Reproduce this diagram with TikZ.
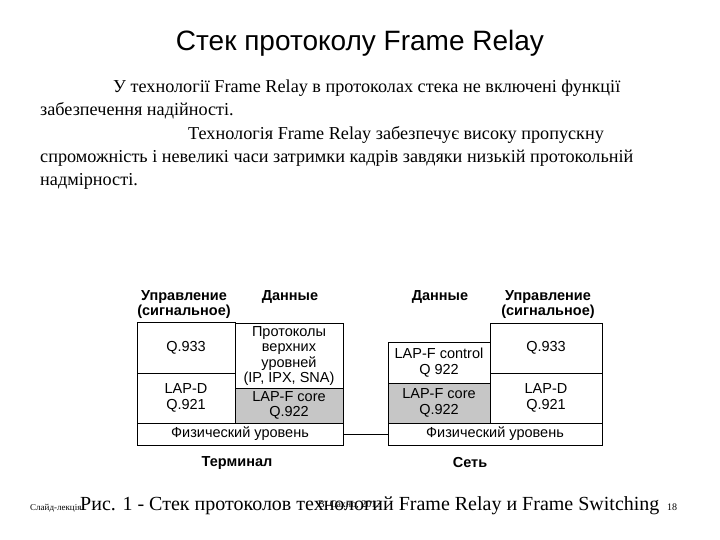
\documentclass[tikz,border=0pt]{standalone}
\usepackage{fontspec}
\setmainfont{Liberation Serif}
\setsansfont{Liberation Sans}
\begin{document}
\begin{tikzpicture}[x=1pt,y=-1pt,
  cell/.style={draw, line width=0.9pt, inner sep=0pt, align=center, font=\sffamily\fontsize{14.5}{15.5}\selectfont},
  grey/.style={cell, fill=gray!45},
  head/.style={align=center, font=\sffamily\bfseries\fontsize{14.5}{15}\selectfont},
  body/.style={anchor=base west, inner sep=0pt, font=\fontsize{18.2}{20}\selectfont},
  link/.style={line width=0.9pt}]
\useasboundingbox (0,0) rectangle (720,540);
% title
\node[font=\sffamily\fontsize{28}{32}\selectfont] (title) at (360,43) {Стек протоколу Frame Relay};
% body text
\node[body] (l1) at (113,93) {У технології Frame Relay в протоколах стека не включені функції};
\node[body] (l2) at (40,116) {забезпечення надійності.};
\node[body] (l3) at (188,140) {Технологія Frame Relay забезпечує високу пропускну};
\node[body] (l4) at (40,163) {спроможність і невеликі часи затримки кадрів завдяки низькій протокольній};
\node[body] (l5) at (40,186) {надмірності.};
% left stack
\node[head] (lhc) at (184,305) {Управление\\(сигнальное)};
\node[head] (lhd) at (290,297) {Данные};
\node[cell, minimum width=98pt, minimum height=51pt] (lq933) at (186,347.5) {Q.933};
\node[cell, minimum width=98pt, minimum height=50pt] (llapd) at (186,398) {LAP-D\\Q.921};
\node[cell, minimum width=108pt, minimum height=66pt] (lup) at (289,356) {Протоколы\\верхних\\уровней\\(IP, IPX, SNA)};
\node[grey, minimum width=108pt, minimum height=35pt] (lcore) at (289,405.5) {LAP-F core\\Q.922};
\node[cell, minimum width=206pt, minimum height=22pt] (lphys) at (240,434) {Физический уровень};
\node[head] (term) at (237,463) {Терминал};
% right stack
\node[head] (rhd) at (440,297) {Данные};
\node[head] (rhc) at (548,305) {Управление\\(сигнальное)};
\node[cell, minimum width=102pt, minimum height=41pt] (rctl) at (439,362.5) {LAP-F control\\Q 922};
\node[grey, minimum width=102pt, minimum height=40pt] (rcore) at (439,403) {LAP-F core\\Q.922};
\node[cell, minimum width=112pt, minimum height=50pt] (rq933) at (546,348) {Q.933};
\node[cell, minimum width=112pt, minimum height=50pt] (rlapd) at (546,398) {LAP-D\\Q.921};
\node[cell, minimum width=214pt, minimum height=22pt] (rphys) at (495,434) {Физический уровень};
\node[head] (net) at (470,463) {Сеть};
\draw[link] (lphys.east) -- (rphys.west);
% footer
\node[anchor=base west, inner sep=0pt, font=\fontsize{9}{10}\selectfont] (f1) at (30,510) {Слайд-лекція};
\node[anchor=base west, inner sep=0pt, font=\fontsize{20}{22}\selectfont] (cap) at (80,510) {Рис. 1 - Стек протоколов технологий Frame Relay и Frame Switching};
\node[anchor=base west, inner sep=0pt, font=\fontsize{10}{11}\selectfont] (f2) at (318,507) {В. Сахно, 2013};
\node[anchor=base west, inner sep=0pt, font=\fontsize{10}{11}\selectfont] (f3) at (667,510) {18};
\end{tikzpicture}
\end{document}
